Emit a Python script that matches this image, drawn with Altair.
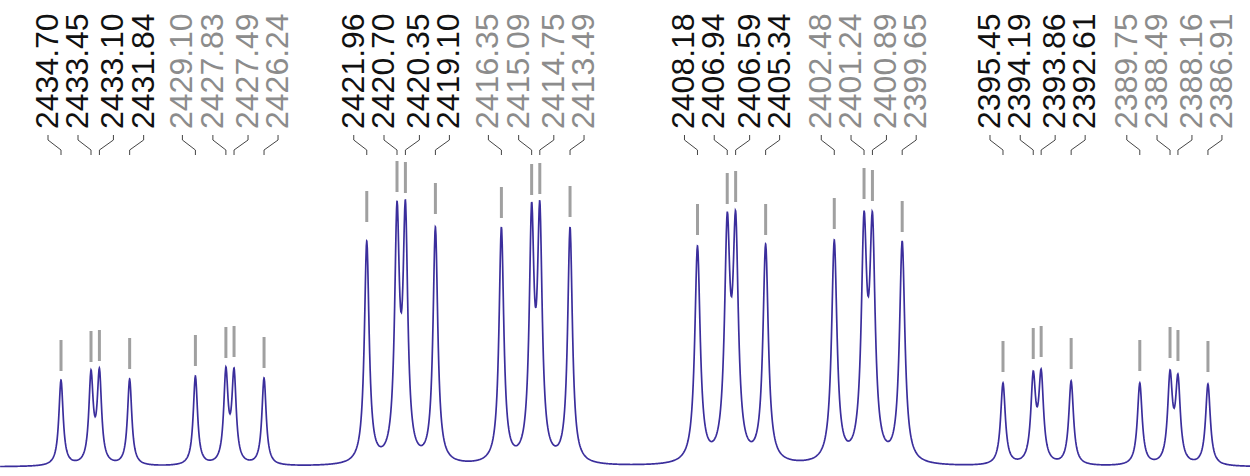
import altair as alt
import numpy as np
import pandas as pd

# ---- data ----
peak_hz = [
    2434.70, 2433.45, 2433.10, 2431.84,
    2429.10, 2427.83, 2427.49, 2426.24,
    2421.96, 2420.70, 2420.35, 2419.10,
    2416.35, 2415.09, 2414.75, 2413.49,
    2408.18, 2406.94, 2406.59, 2405.34,
    2402.48, 2401.24, 2400.89, 2399.65,
    2395.45, 2394.19, 2393.86, 2392.61,
    2389.75, 2388.49, 2388.16, 2386.91,
]
# observed maxima of the spectrum line (intensity above baseline)
peak_height = [
    87, 97, 99, 88,
    91, 100, 99, 89,
    226, 266, 267, 240,
    240, 265, 266, 240,
    221, 255, 256, 223,
    227, 256, 255, 226,
    84, 96, 98, 86,
    84, 97, 93, 83,
]
# lower end of the grey peak markers (intensity)
marker_base = [
    96, 105, 106, 98,
    101, 109, 110, 99,
    245, 275, 274, 253,
    249, 272, 273, 250,
    232, 263, 265, 232,
    238, 268, 266, 235,
    95, 108, 110, 98,
    96, 109, 106, 95,
]
# half width at half height of the lines in each quartet (Hz)
group_halfwidth = [0.108, 0.108, 0.119, 0.119, 0.135, 0.135, 0.119, 0.119]
group_color = ["black", "gray", "black", "gray", "black", "gray", "black", "gray"]

# ---- layout constants ----
X_LEFT, X_RIGHT = 2437.242, 2385.158
PX_PER_HZ = 24.0
label_offset_px = [-13, -13, 14, 14]
MARKER_LEN = 31
LABEL_Y = 338
CONN_Y = [332, 327, 317, 312]

n = len(peak_hz)
hz = np.array(peak_hz)
gam = np.array([group_halfwidth[i // 4] for i in range(n)])


def lor(x, x0, g):
    return 1.0 / (1.0 + ((x - x0) / g) ** 2)


M = np.array([[lor(hz[i], hz[j], gam[j]) for j in range(n)] for i in range(n)])
amp = np.linalg.solve(M, np.array(peak_height, dtype=float))

grid = np.sort(np.concatenate([np.arange(X_RIGHT, X_LEFT, 0.02), hz]))
spec = np.zeros_like(grid)
for j in range(n):
    spec += amp[j] * lor(grid, hz[j], gam[j])
spec_df = pd.DataFrame({"hz": grid, "I": spec})

rows, conn, labels = [], [], []
for i in range(n):
    g = i // 4
    k = i % 4
    lab_hz = peak_hz[i] - label_offset_px[k] / PX_PER_HZ
    rows.append({"hz": peak_hz[i], "lo": marker_base[i], "hi": marker_base[i] + MARKER_LEN})
    pts = [(lab_hz, CONN_Y[0]), (lab_hz, CONN_Y[1]), (peak_hz[i], CONN_Y[2]), (peak_hz[i], CONN_Y[3])]
    for s, (xx, yy) in enumerate(pts):
        conn.append({"id": i, "s": s, "hz": xx, "I": yy})
    labels.append({"hz": lab_hz, "I": LABEL_Y, "t": f"{peak_hz[i]:.2f}", "c": group_color[g]})

marks_df = pd.DataFrame(rows)
conn_df = pd.DataFrame(conn)
lab_df = pd.DataFrame(labels)

xs = alt.Scale(domain=[X_RIGHT, X_LEFT], reverse=True, nice=False, zero=False)
ys = alt.Scale(domain=[-9, 467], nice=False, zero=False)

line = alt.Chart(spec_df).mark_line(color="#3b2e9c", strokeWidth=1.7).encode(
    x=alt.X("hz:Q", scale=xs, axis=None),
    y=alt.Y("I:Q", scale=ys, axis=None),
)
ticks = alt.Chart(marks_df).mark_rule(color="#a0a0a0", strokeWidth=3).encode(
    x=alt.X("hz:Q", scale=xs, axis=None),
    y=alt.Y("lo:Q", scale=ys, axis=None),
    y2="hi:Q",
)
connectors = alt.Chart(conn_df).mark_line(color="#444444", strokeWidth=1).encode(
    x=alt.X("hz:Q", scale=xs, axis=None),
    y=alt.Y("I:Q", scale=ys, axis=None),
    detail="id:N",
    order="s:Q",
)
text = alt.Chart(lab_df).mark_text(
    angle=270, align="left", baseline="middle", font="Liberation Sans", fontSize=32
).encode(
    x=alt.X("hz:Q", scale=xs, axis=None),
    y=alt.Y("I:Q", scale=ys, axis=None),
    text="t:N",
    color=alt.Color("c:N", scale=alt.Scale(domain=["black", "gray"], range=["#111111", "#8c8c8c"]), legend=None),
)

chart = alt.layer(line, ticks, connectors, text).properties(
    width=1250, height=476, padding=0, autosize="none"
).configure_view(stroke=None)

chart.save("out.html", embed_options={"renderer": "svg", "actions": False})
